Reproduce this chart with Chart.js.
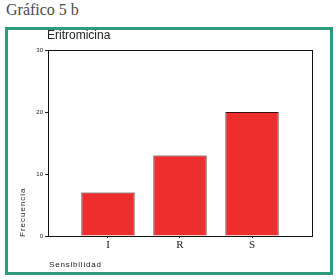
<!DOCTYPE html>
<html>
<head>
<meta charset="utf-8">
<script src="https://cdn.jsdelivr.net/npm/chart.js@4"></script>
<style>
  body { margin: 0; background: #fff; width: 336px; height: 280px; position: relative; overflow: hidden; }
  #heading { position: absolute; left: 6px; top: 1px; font: 16px "Liberation Serif", serif; color: #4a4a4a; }
  #frame { position: absolute; left: 5px; top: 27px; width: 322px; height: 242px; border: 3px solid #2e9a7e; }
  #chart { position: absolute; left: 0; top: 0; }
</style>
</head>
<body>
<div id="heading">Gráfico 5 b</div>
<div id="frame"></div>
<canvas id="chart" width="336" height="280"></canvas>
<script>
// Eritromicina - frecuencia por sensibilidad
const categories = ['I', 'R', 'S'];
const frecuencia = [7, 13, 20];
const yTicks = [0, 10, 20, 30];

const textos = {
    id: 'textos',
    afterDraw(chart) {
        const c = chart.ctx;
        const a = chart.chartArea;
        c.save();
        // caja del grafico
        c.strokeStyle = '#111';
        c.lineWidth = 1;
        c.strokeRect(a.left + 0.5, a.top + 0.5, a.right - a.left, a.bottom - a.top);
        c.fillStyle = '#222';
        c.font = '12px "Liberation Sans", Arial, sans-serif';
        c.textBaseline = 'middle';
        c.fillText('Eritromicina', 47, 36);
        c.font = '8px "Liberation Sans", Arial, sans-serif';
        c.letterSpacing = '0.8px';
        c.fillText('Sensibilidad', 49, 265);
        c.letterSpacing = '1px';
        c.translate(23, 237);
        c.rotate(-Math.PI / 2);
        c.fillText('Frecuencia', 0, 0);
        c.restore();
    }
};

new Chart(document.getElementById('chart'), {
    type: 'bar',
    data: {
        datasets: [{
            label: 'Frecuencia',
            data: categories.map((c, i) => ({ x: i, y: frecuencia[i] })),
            backgroundColor: '#ee2d2d',
            borderColor: '#3a1010',
            borderWidth: 1,
            barPercentage: 0.74,
            categoryPercentage: 1,
        }],
    },
    options: {
        responsive: false,
        animation: false,
        layout: { padding: { left: 0, top: 50, right: 24, bottom: 0 } },
        plugins: {
            legend: { display: false },
            tooltip: { enabled: false },
        },
        scales: {
            x: {
                type: 'linear',
                offset: false,
                min: -0.833,
                max: 2.833,
                afterFit: (scale) => { scale.height = 44; },
                afterBuildTicks: (scale) => { scale.ticks = categories.map((c, i) => ({ value: i })); },
                grid: { drawOnChartArea: false, drawTicks: true, tickLength: 2, color: '#222', offset: false },
                border: { display: false },
                ticks: {
                    callback: (v) => categories[v],
                    color: '#222',
                    padding: 1,
                    maxRotation: 0,
                    font: { family: '"Liberation Serif", serif', size: 11 },
                },
            },
            y: {
                min: 0,
                max: 30,
                afterFit: (scale) => { scale.width = 48; },
                afterBuildTicks: (scale) => { scale.ticks = yTicks.map(v => ({ value: v })); },
                grid: { drawOnChartArea: false, drawTicks: true, tickLength: 3, color: '#222' },
                border: { display: false },
                ticks: {
                    color: '#222',
                    padding: 2,
                    font: { family: '"Liberation Sans", Arial, sans-serif', size: 6 },
                },
            },
        },
    },
    plugins: [textos],
});
</script>
</body>
</html>
